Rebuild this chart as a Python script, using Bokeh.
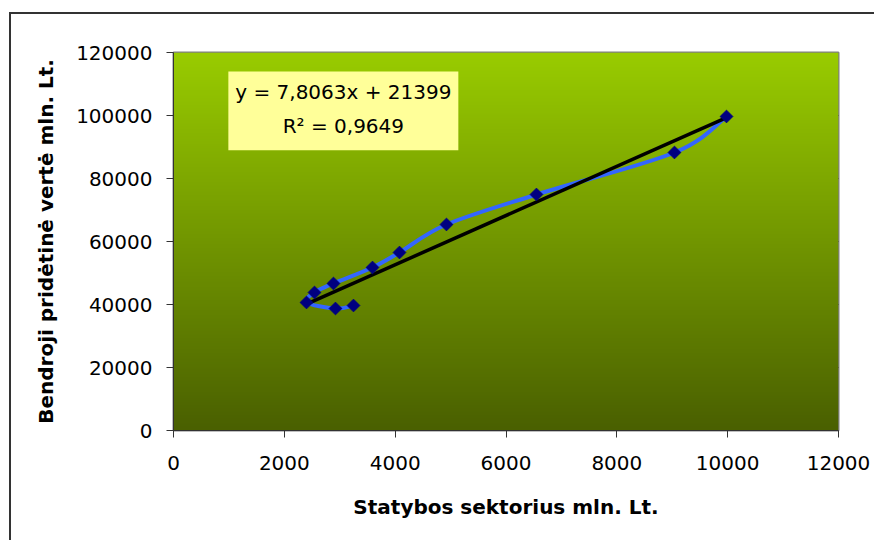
import numpy as np
from bokeh.plotting import figure
from bokeh.models import BoxAnnotation, Label, FixedTicker, NumeralTickFormatter
from bokeh.embed import file_html
from bokeh.resources import INLINE

# --- data (in plotting order of the smoothed line) ---
construction = [3248, 2923, 2400, 2544, 2887, 3591, 4078, 4926, 6550, 9040, 9979]
value_added = [39683, 38730, 40635, 43810, 46667, 51746, 56508, 65397, 74921, 88254, 99683]
trend_slope = 7.8063
trend_intercept = 21399
eq_text = "y = 7,8063x + 21399"
r2_text = "R² = 0,9649"
x_ticks = [0, 2000, 4000, 6000, 8000, 10000, 12000]
y_ticks = [0, 20000, 40000, 60000, 80000, 100000, 120000]
x_title = "Statybos sektorius mln. Lt."
y_title = "Bendroji pridėtinė vertė mln. Lt."

FONT = "DejaVu Sans"

OFF_X, OFF_Y = 11, 14  # outer chart border offset (margin + border width)
TOTAL_W, TOTAL_H = 876, 542

p = figure(width=TOTAL_W - OFF_X, height=TOTAL_H - OFF_Y, output_backend="svg",
           toolbar_location=None, x_range=(0, 12000), y_range=(0, 120000),
           min_border_left=173 - OFF_X, min_border_right=TOTAL_W - 838,
           min_border_top=52 - OFF_Y, min_border_bottom=TOTAL_H - 430)
p.styles = {"margin-left": "9px", "margin-top": "12px",
            "border-left": "2px solid #333333", "border-top": "2px solid #333333"}
p.border_fill_color = "white"
p.outline_line_color = "#808080"
p.outline_line_width = 2

# gradient background of plot area
n = 256
t = np.linspace(0, 1, n)  # 0 bottom, 1 top
top = np.array([153, 204, 0])
bot = np.array([74, 96, 0])
cols = (bot[None, :] * (1 - t[:, None]) + top[None, :] * t[:, None]).astype(np.uint32)
img = np.empty((n, 1), dtype=np.uint32)
view = img.view(dtype=np.uint8).reshape((n, 1, 4))
view[:, 0, 0] = cols[:, 0]
view[:, 0, 1] = cols[:, 1]
view[:, 0, 2] = cols[:, 2]
view[:, 0, 3] = 255
p.image_rgba(image=[img], x=0, y=0, dw=12000, dh=120000)

# axes
for ax, ticks in ((p.xaxis, x_ticks), (p.yaxis, y_ticks)):
    ax.ticker = FixedTicker(ticks=ticks)
    ax.formatter = NumeralTickFormatter(format="0")
    ax.major_label_text_font = FONT
    ax.major_label_text_font_size = "20px"
    ax.major_label_text_color = "black"
    ax.axis_label_text_font = FONT
    ax.axis_label_text_font_size = "20px"
    ax.axis_label_text_font_style = "bold"
    ax.axis_label_text_color = "black"
    ax.axis_line_color = "#333333"
    ax.axis_line_width = 1
    ax.major_tick_line_color = "#333333"
    ax.major_tick_in = 0
    ax.major_tick_out = 7
    ax.minor_tick_line_color = None
p.xaxis.axis_label = x_title
p.yaxis.axis_label = y_title
p.xaxis.major_label_standoff = 18
p.xaxis.axis_label_standoff = 22
p.yaxis.major_label_standoff = 14
p.yaxis.axis_label_standoff = 15
p.xgrid.grid_line_color = None
p.ygrid.grid_line_color = "black"
p.ygrid.grid_line_width = 1
p.ygrid.level = "image"

# smoothed line via cubic bezier segments (Catmull-Rom style control points)
xs = np.array(construction, dtype=float)
ys = np.array(value_added, dtype=float)
k = 1.0 / 6.0
x0, y0, x1, y1, cx0, cy0, cx1, cy1 = [], [], [], [], [], [], [], []
for i in range(len(xs) - 1):
    pm = max(i - 1, 0)
    pp = min(i + 2, len(xs) - 1)
    x0.append(xs[i]); y0.append(ys[i]); x1.append(xs[i + 1]); y1.append(ys[i + 1])
    cx0.append(xs[i] + (xs[i + 1] - xs[pm]) * k)
    cy0.append(ys[i] + (ys[i + 1] - ys[pm]) * k)
    cx1.append(xs[i + 1] - (xs[pp] - xs[i]) * k)
    cy1.append(ys[i + 1] - (ys[pp] - ys[i]) * k)
p.bezier(x0=x0, y0=y0, x1=x1, y1=y1, cx0=cx0, cy0=cy0, cx1=cx1, cy1=cy1,
         line_color="#3366FF", line_width=4)

# linear trend line
tx = [min(construction), max(construction)]
ty = [trend_slope * v + trend_intercept for v in tx]
p.line(tx, ty, line_color="black", line_width=3.5)

# markers
p.scatter(construction, value_added, marker="square", angle=np.pi / 4, size=9,
          fill_color="#000080", line_color="#000080")

# equation box
p.add_layout(BoxAnnotation(left=990, right=5140, top=114000, bottom=89000,
                           fill_color="#FFFF99", fill_alpha=1, line_color=None))
p.add_layout(Label(x=3065, y=107600, text=eq_text, text_align="center", text_baseline="middle",
                   text_font=FONT, text_font_size="20px", text_color="black"))
p.add_layout(Label(x=3065, y=96600, text=r2_text, text_align="center", text_baseline="middle",
                   text_font=FONT, text_font_size="20px", text_color="black"))

open("out.html", "w").write(file_html(p, INLINE))
